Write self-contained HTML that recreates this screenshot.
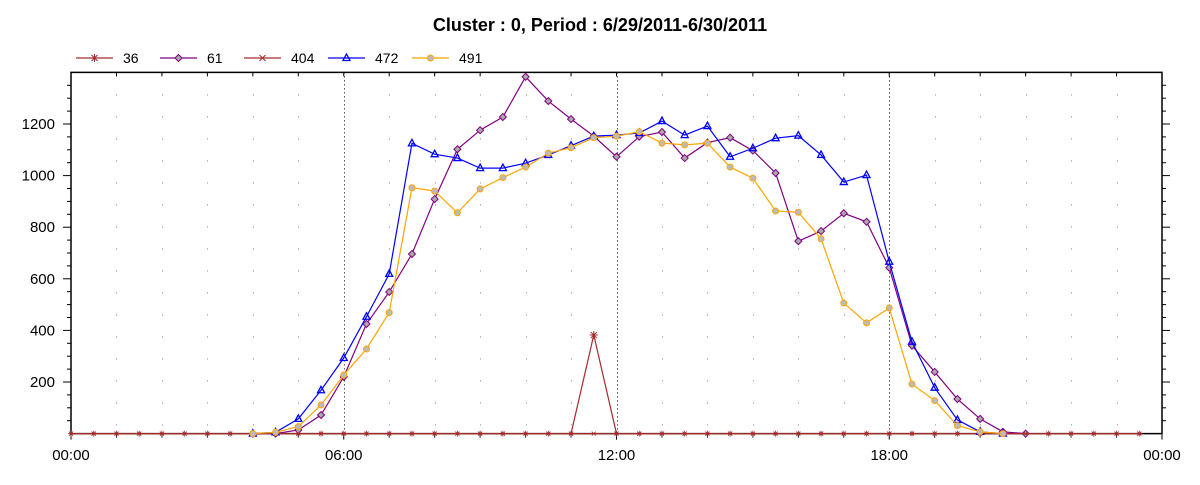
<!DOCTYPE html>
<html><head><meta charset="utf-8">
<style>
body{margin:0;background:#fff;font-family:"Liberation Sans",sans-serif;}
svg text{font-family:"Liberation Sans",sans-serif;}
</style></head>
<body>
<svg id="chart" width="1200" height="480" xmlns="http://www.w3.org/2000/svg">
<text x="600" y="31" text-anchor="middle" font-size="18" font-weight="bold">Cluster : 0, Period : 6/29/2011-6/30/2011</text>
<g id="legend"></g>
<g id="grid"></g>
<g id="axes"></g>
<g id="series"></g>
</svg>
<script>
const xTickLabels = ["00:00","06:00","12:00","18:00","00:00"];
const yTickValues = [200,400,600,800,1000,1200];
const seriesNames = ["36","61","404","472","491"];
const s36 = [0,0,0,0,0,0,0,0,0,0,0,0,0,0,0,0,0,0,0,0,0,0,0,382,0,0,0,0,0,0,0,0,0,0,0,0,0,0,0,0,0,0,0,0,0,0,0,0];
const s404 = [0,0,0,0,0,0,0,0,0,0,0,0,0,0,0,0,0,0,0,0,0,0,0,0,0,0,0,0,0,0,0,0,0,0,0,0,0,0,0,0,0,0,0,0,0,0,0,0];
const s61 = [null,null,null,null,null,null,null,null,0,0,14,72,220,425,549,696,909,1102,1176,1227,1383,1289,1219,1153,1073,1151,1169,1068,1128,1147,1097,1010,746,785,854,821,643,341,239,134,57,7,0,null,null,null,null,null];
const s472 = [null,null,null,null,null,null,null,null,0,5,57,168,293,453,619,1125,1083,1068,1029,1029,1048,1080,1116,1153,1157,1165,1211,1157,1192,1073,1106,1145,1155,1080,975,1002,666,356,178,53,7,0,null,null,null,null,null,null];
const s491 = [null,null,null,null,null,null,null,null,0,5,27,111,227,328,469,953,940,856,948,992,1033,1087,1108,1147,1153,1170,1126,1119,1126,1033,990,863,858,755,506,429,487,192,128,31,7,0,null,null,null,null,null,null];

const NS="http://www.w3.org/2000/svg";
const L=71,R=1162,T=72.4,B=433.6,YMAX=1400;
const xs=i=>L+(R-L)*(i*0.5)/24;
const xh=h=>L+(R-L)*h/24;
const ys=v=>B-(B-T)*v/YMAX;
function mk(tag,attrs,parent){const e=document.createElementNS(NS,tag);for(const k in attrs)e.setAttribute(k,attrs[k]);parent.appendChild(e);return e;}
const grid=document.getElementById('grid'),axes=document.getElementById('axes'),ser=document.getElementById('series'),leg=document.getElementById('legend');

for(let h=1;h<24;h++){
  const gx=Math.round(xh(h))+0.5;
  const big=h%6===0;
  const g=mk('line',{x1:gx,x2:gx,y1:T,y2:B,stroke:big?'#000':'#888','stroke-width':1,'stroke-dasharray':big?'1,3':'1,21'},grid);
  
  
}
const frame=mk('path',{d:`M${L},${T}H${R}V${B}H${L}Z`,fill:'none',stroke:'#000','stroke-width':1.5},axes);


for(let h=0;h<=24;h++){
  const big=h%6===0;
  mk('line',{x1:xh(h),x2:xh(h),y1:B,y2:B+(big?6:4),stroke:'#000'},axes);
  mk('line',{x1:xh(h),x2:xh(h),y1:T,y2:T+4,stroke:'#000'},axes);
}
xTickLabels.forEach((t,k)=>{
  const e=mk('text',{x:xh(k*6),y:460,'text-anchor':'middle','font-size':15},axes);
  e.textContent=t;
  
  
});
for(let v=50;v<YMAX;v+=50){
  const big=v%200===0;
  mk('line',{x1:L-(big?8:4),x2:L,y1:ys(v),y2:ys(v),stroke:'#000'},axes);
  mk('line',{x1:R,x2:R+(big?8:4),y1:ys(v),y2:ys(v),stroke:'#000'},axes);
}
yTickValues.forEach(v=>{
  const e=mk('text',{x:55,y:ys(v)+5,'text-anchor':'end','font-size':15},axes);
  e.textContent=v;
  
  
});

const styles=[
 {data:s36,color:'#a52a2a',m:'star'},
 {data:s61,color:'#800080',m:'diamond'},
 {data:s404,color:'#a52a2a',m:'x'},
 {data:s472,color:'#0000ff',m:'tri'},
 {data:s491,color:'#ffa500',m:'circ'}];
function marker(type,x,y,c,parent,small){
  let e;
  const r=small?2:3;
  if(type==='star'){e=mk('path',{d:`M${x-r},${y-r}L${x+r},${y+r}M${x-r},${y+r}L${x+r},${y-r}M${x},${y-r-1}V${y+r+1}M${x-r-1},${y}H${x+r+1}`,stroke:c,fill:'none','stroke-width':small?0.8:1},parent);}
  else if(type==='x'){e=mk('path',{d:`M${x-r},${y-r}L${x+r},${y+r}M${x-r},${y+r}L${x+r},${y-r}`,stroke:c,fill:'none','stroke-width':small?0.8:1},parent);}
  else if(type==='diamond'){e=mk('path',{d:`M${x},${y-3.5}L${x+3.5},${y}L${x},${y+3.5}L${x-3.5},${y}Z`,stroke:c,fill:'#aaa'},parent);}
  else if(type==='tri'){e=mk('path',{d:`M${x},${y-4}L${x+3.5},${y+2.5}L${x-3.5},${y+2.5}Z`,stroke:c,fill:'none','stroke-width':1.3},parent);}
  else {e=mk('circle',{cx:x,cy:y,r:3,stroke:c,fill:'#bbb'},parent);}
  return e;
}
styles.forEach((s,k)=>{
  const g=mk('g',{},ser);
  
  
  let d='',pen=false;
  s.data.forEach((v,i)=>{ if(v===null){pen=false;return;} d+=(pen?'L':'M')+xs(i)+','+ys(v); pen=true;});
  const p=mk('path',{d:d,fill:'none',stroke:s.color,'stroke-width':1.2},g);
  
  
  s.data.forEach((v,i)=>{ if(v===null)return;
    const small=(s.m==='star'||s.m==='x')&&v===0;
    const m=marker(s.m,xs(i),ys(v),s.color,g,small);
    
    
  });
  const lx=[76,160,244,328,412][k];
  const item=mk('g',{},leg);
  
  
  mk('line',{x1:lx,x2:lx+37,y1:58,y2:58,stroke:s.color,'stroke-width':1.2},item);
  marker(s.m,lx+18.5,58,s.color,item,false);
  const t=mk('text',{x:lx+47,y:63,'font-size':14},item);
  t.textContent=seriesNames[k];
});
</script>
</body></html>
